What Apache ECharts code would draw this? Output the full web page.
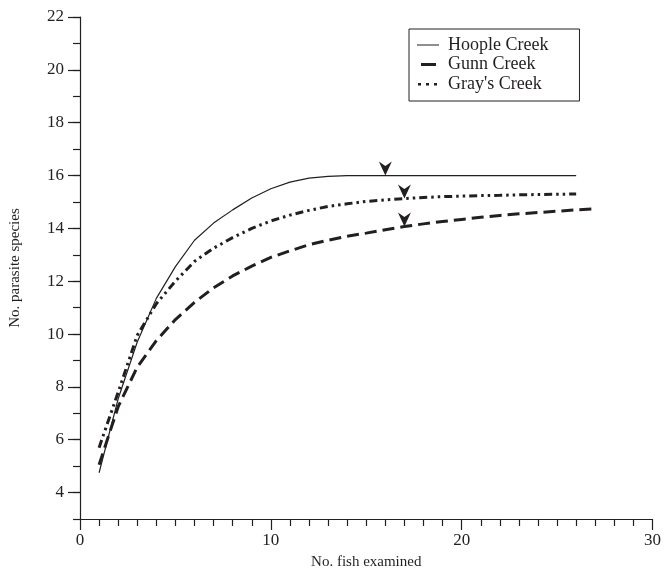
<!DOCTYPE html>
<html>
<head>
<meta charset="utf-8">
<script src="https://cdn.jsdelivr.net/npm/echarts@6/dist/echarts.min.js"></script>
<style>
html,body{margin:0;padding:0;background:#fff;}
#chart{width:664px;height:575px;}
</style>
</head>
<body>
<div id="chart"></div>
<script>
// ---- data ----
const seriesNames = ['Hoople Creek', 'Gunn Creek', "Gray's Creek"];
const hoopleX = [1,2,3,4,5,6,7,8,9,10,11,12,13,14,15,16,17,18,19,20,21,22,23,24,25,26];
const hoopleY = [4.75,7.55,9.7,11.35,12.55,13.55,14.2,14.7,15.15,15.5,15.75,15.9,15.97,16.0,16.0,16.0,16.0,16.0,16.0,16.0,16.0,16.0,16.0,16.0,16.0,16.0];
const gunnX = [1,2,3,4,5,6,7,8,9,10,11,12,13,14,15,16,17,18,19,20,21,22,23,24,25,26,27];
const gunnY = [5.05,7.25,8.75,9.75,10.55,11.2,11.75,12.2,12.57,12.9,13.15,13.38,13.55,13.7,13.82,13.95,14.07,14.17,14.26,14.34,14.42,14.49,14.55,14.6,14.65,14.7,14.74];
const graysX = [1,2,3,4,5,6,7,8,9,10,11,12,13,14,15,16,17,18,19,20,21,22,23,24,25,26];
const graysY = [5.7,7.8,9.95,11.15,12.0,12.75,13.25,13.65,14.0,14.28,14.5,14.68,14.83,14.93,15.02,15.08,15.13,15.17,15.2,15.22,15.24,15.25,15.27,15.28,15.29,15.3];
// arrow positions (x value on each curve)
const arrowHoople = 16;
const arrowGunn = 17;
const arrowGrays = 17;
const xTickLabels = [0, 10, 20, 30];
const yTickLabels = [4, 6, 8, 10, 12, 14, 16, 18, 20, 22];
const xTitle = 'No. fish examined';
const yTitle = 'No. parasite species';

// ---- chart ----
const INK = '#231f20';
const FONT = '"Liberation Serif", "Times New Roman", serif';
const pairs = (xs, ys) => xs.map((x, i) => [x, ys[i]]);
const yAt = (xs, ys, x) => ys[xs.indexOf(x)];
const chevron = 'path://M0,0 L5,3.5 L10,0 L5,11 Z';

function arrowMark(xs, ys, x) {
  return {
    symbol: chevron,
    symbolSize: [13, 14],
    symbolOffset: [0, '-50%'],
    itemStyle: { color: INK },
    label: { show: false },
    silent: true,
    data: [{ coord: [x, yAt(xs, ys, x)] }]
  };
}

const chart = echarts.init(document.getElementById('chart'), null, { renderer: 'canvas' });
const option = {
  backgroundColor: '#fff',
  animation: false,
  textStyle: { fontFamily: FONT, color: INK },
  grid: { left: 80, right: 9, top: 17, bottom: 55, containLabel: false },
  legend: {
    orient: 'vertical',
    left: 409,
    top: 29,
    padding: [7, 31, 8, 8],
    itemWidth: 22,
    itemHeight: 14,
    itemGap: 1.5,
    borderColor: INK,
    borderWidth: 1,
    textStyle: { fontFamily: FONT, fontSize: 18, color: INK, padding: [0, 0, 0, 4] },
    data: [
      { name: seriesNames[0], icon: 'path://M0,6.4h22v1.2h-22z M0,0h0.001v0.001z M0,14h0.001v0.001z', itemStyle: { color: INK } },
      { name: seriesNames[1], icon: 'path://M4,5.5h15v3h-15z M0,0h0.001v0.001z M22,14h0.001v0.001z', itemStyle: { color: INK } },
      { name: seriesNames[2], icon: 'path://M1,6h3v2.4h-3z M9,6h3v2.4h-3z M17,6h3v2.4h-3z M0,0h0.001v0.001z M22,14h0.001v0.001z', itemStyle: { color: INK } }
    ]
  },
  xAxis: [{
    type: 'value',
    min: 0, max: 30, interval: 10,
    name: xTitle,
    nameLocation: 'middle',
    nameGap: 36,
    nameTextStyle: { fontFamily: FONT, fontSize: 15, color: INK },
    axisLine: { show: true, onZero: false, lineStyle: { color: INK, width: 1.2 } },
    axisTick: { show: true, length: 11, lineStyle: { color: INK, width: 1.2 } },
    minorTick: { show: true, splitNumber: 10, length: 7, lineStyle: { color: INK, width: 1.2 } },
    axisLabel: {
      fontFamily: FONT, fontSize: 17, color: INK, margin: 13,
      customValues: xTickLabels
    },
    splitLine: { show: false }
  }],
  yAxis: [{
    type: 'value',
    min: 3, max: 22,
    name: yTitle,
    nameLocation: 'middle',
    nameGap: 57,
    nameTextStyle: { fontFamily: FONT, fontSize: 15, color: INK },
    axisLine: { show: true, onZero: false, lineStyle: { color: INK, width: 1.2 } },
    axisTick: { show: true, length: 12, lineStyle: { color: INK, width: 1.2 }, customValues: yTickLabels },
    axisLabel: { fontFamily: FONT, fontSize: 17, color: INK, margin: 16, customValues: yTickLabels },
    splitLine: { show: false }
  }, {
    type: 'value',
    min: 3, max: 22, interval: 1,
    position: 'left',
    axisLine: { show: false },
    axisTick: { show: true, length: 7, lineStyle: { color: INK, width: 1.2 } },
    axisLabel: { show: false },
    splitLine: { show: false }
  }],
  series: [
    {
      name: seriesNames[0], type: 'line', data: pairs(hoopleX, hoopleY),
      showSymbol: false, symbol: 'none', color: INK,
      lineStyle: { color: INK, width: 1.2, type: 'solid' },
      markPoint: arrowMark(hoopleX, hoopleY, arrowHoople),
      z: 3
    },
    {
      name: seriesNames[1], type: 'line', data: pairs(gunnX, gunnY),
      showSymbol: false, symbol: 'none', color: INK,
      lineStyle: { color: INK, width: 3, type: [12, 6], cap: 'butt' },
      markPoint: arrowMark(gunnX, gunnY, arrowGunn),
      z: 2
    },
    {
      name: seriesNames[2], type: 'line', data: pairs(graysX, graysY),
      showSymbol: false, symbol: 'none', color: INK,
      lineStyle: { color: INK, width: 3, type: [8, 4, 2.5, 4, 2.5, 4], cap: 'butt' },
      markPoint: arrowMark(graysX, graysY, arrowGrays),
      z: 2
    }
  ]
};
chart.setOption(option);
</script>
</body>
</html>
